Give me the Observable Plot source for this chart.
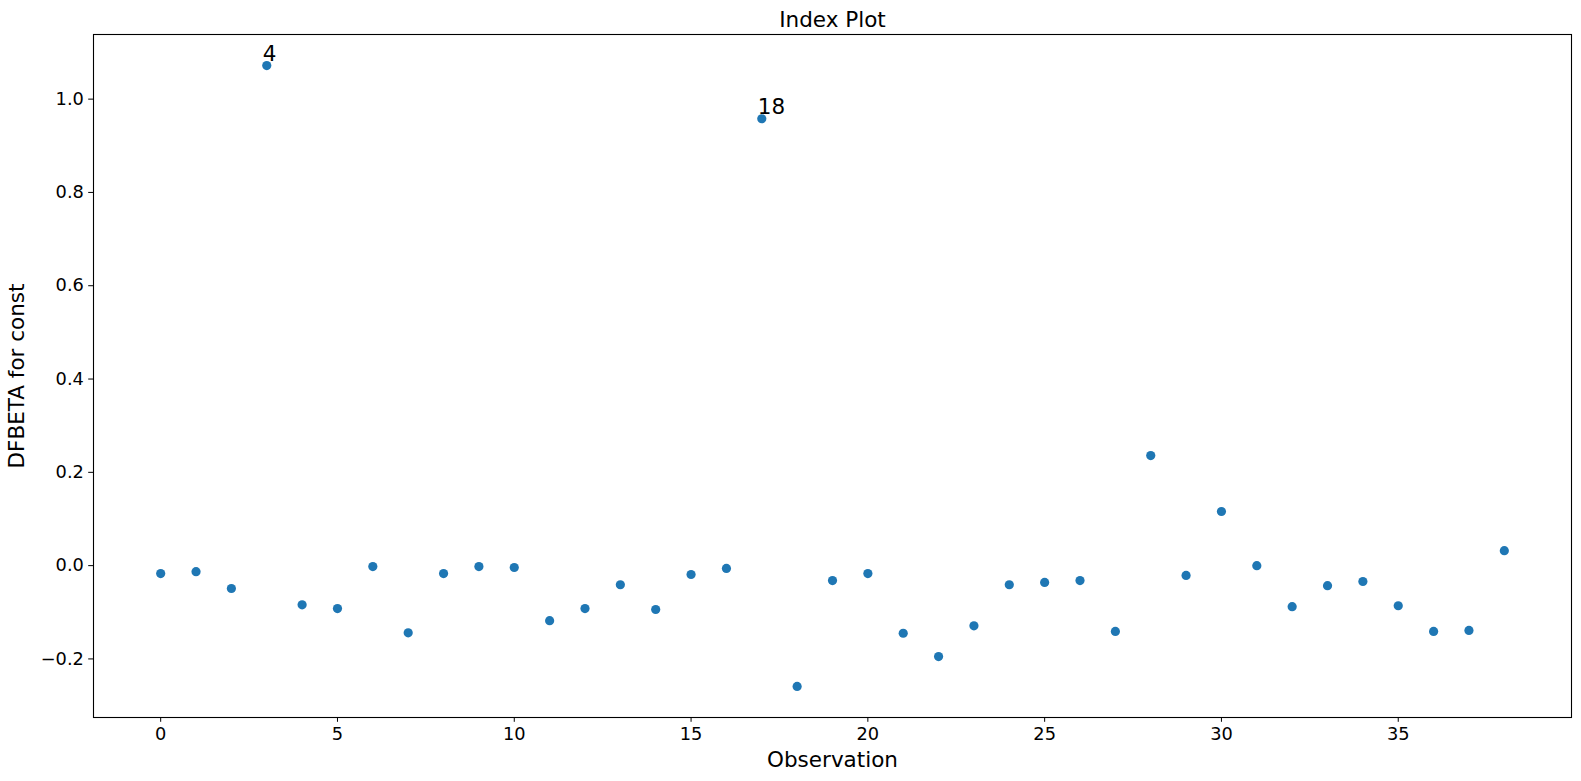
<!DOCTYPE html>
<html>
<head>
<meta charset="utf-8">
<script src="https://cdn.jsdelivr.net/npm/d3@7"></script>
<script src="https://cdn.jsdelivr.net/npm/@observablehq/plot@0.6"></script>
<style>
  html, body { margin: 0; padding: 0; background: #fff; }
  #chart svg { display: block; }
</style>
</head>
<body>
<div id="chart"></div>
<script>
// Observation index and DFBETA values
const observations = d3.range(39);
const dfbeta = [
  -0.017, -0.013, -0.049, 1.072, -0.084, -0.092, -0.002, -0.144, -0.017, -0.002,
  -0.004, -0.118, -0.092, -0.041, -0.094, -0.019, -0.006, 0.958, -0.259, -0.032,
  -0.017, -0.145, -0.195, -0.129, -0.041, -0.036, -0.032, -0.141, 0.236, -0.021,
  0.116, 0.000, -0.088, -0.043, -0.034, -0.086, -0.141, -0.139, 0.032
];
const annotatedIndex = [3, 17];
const annotatedLabels = ["4", "18"];
const xTicks = [0, 5, 10, 15, 20, 25, 30, 35];
const yTicks = [-0.2, 0.0, 0.2, 0.4, 0.6, 0.8, 1.0];
const titleText = "Index Plot";
const xLabel = "Observation";
const yLabel = "DFBETA for const";

const data = observations.map((o, i) => ({obs: o, value: dfbeta[i]}));
const notes = annotatedIndex.map((i, k) => ({obs: observations[i], value: dfbeta[i], label: annotatedLabels[k]}));

// matplotlib-like 5% margins
const xExt = d3.extent(observations), yExt = d3.extent(dfbeta);
const xPad = (xExt[1] - xExt[0]) * 0.05, yPad = (yExt[1] - yExt[0]) * 0.05;

const font = "DejaVu Sans, sans-serif";
const chart = Plot.plot({
  width: 1581,
  height: 781,
  marginLeft: 93,
  marginRight: 10,
  marginTop: 34,
  marginBottom: 64,
  style: {fontFamily: font, fontSize: "17.8px", color: "#000", background: "#fff"},
  x: {domain: [xExt[0] - xPad, xExt[1] + xPad]},
  y: {domain: [yExt[0] - yPad, yExt[1] + yPad]},
  marks: [
    Plot.axisX({ticks: xTicks, tickSize: 4.8, tickPadding: 4.8, tickFormat: d3.format("d"), label: null, fontSize: 17.8, stroke: "#000"}),
    Plot.axisY({ticks: yTicks, tickSize: 4.8, tickPadding: 4.8, tickFormat: d3.format(".1f"), label: null, fontSize: 17.8, stroke: "#000"}),
    Plot.dot(data, {x: "obs", y: "value", r: 4.6, fill: "#1f77b4", stroke: "none"}),
    Plot.text(notes, {x: "obs", y: "value", text: "label", textAnchor: "start", lineAnchor: "bottom", dx: -4, dy: -5, fontSize: 21.5, fill: "#000"}),
    Plot.text([titleText], {frameAnchor: "top", lineAnchor: "bottom", dy: -8, fontSize: 21.5, fill: "#000"}),
    Plot.text([xLabel], {frameAnchor: "bottom", lineAnchor: "middle", dy: 43, fontSize: 21.5, fill: "#000"}),
    Plot.text([yLabel], {frameAnchor: "left", textAnchor: "middle", lineAnchor: "middle", rotate: -90, dx: -76, fontSize: 21.5, fill: "#000"}),
    Plot.frame({stroke: "#000", strokeWidth: 1.1})
  ]
});
document.getElementById("chart").appendChild(chart);
</script>
</body>
</html>
